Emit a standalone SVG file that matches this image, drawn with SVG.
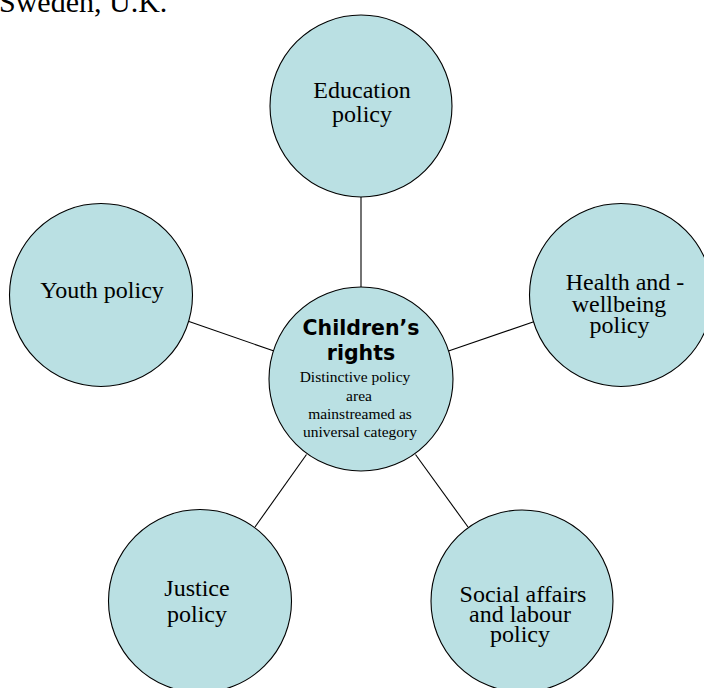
<svg xmlns="http://www.w3.org/2000/svg" width="704" height="688" viewBox="0 0 704 688">
<style>
.node{fill:#bae0e3;stroke:#000;stroke-width:1.1}
.con{stroke:#000;stroke-width:1.1;fill:none}
.t{font-family:"Liberation Serif","Times New Roman",serif;font-size:24px;fill:#000;text-anchor:middle}
.s{font-family:"Liberation Serif","Times New Roman",serif;font-size:15.5px;fill:#000;text-anchor:middle}
.b{font-family:"DejaVu Sans",Verdana,sans-serif;font-size:20.5px;font-weight:bold;fill:#000;text-anchor:middle}
</style>
<rect width="704" height="688" fill="#fff"/>
<text x="-1" y="12" font-family="Liberation Serif, serif" font-size="30">Sweden, U.K.</text>
<g id="connectors">
<line class="con" x1="361" y1="197" x2="361" y2="288"/>
<line class="con" x1="189" y1="321.5" x2="274" y2="351"/>
<line class="con" x1="448.5" y1="351" x2="533" y2="322"/>
<line class="con" x1="306.5" y1="454.5" x2="255" y2="527"/>
<line class="con" x1="415.5" y1="454.5" x2="468" y2="527"/>
</g>
<g id="education">
<circle class="node" cx="361" cy="106" r="91"/>
<text class="t" x="362" y="98">Education</text>
<text class="t" x="362" y="122">policy</text>
</g>
<g id="youth">
<circle class="node" cx="101" cy="295" r="91.5"/>
<text class="t" x="102" y="298">Youth policy</text>
</g>
<g id="health">
<circle class="node" cx="621" cy="295" r="91.5"/>
<text class="t" x="625" y="290">Health and -</text>
<text class="t" x="619" y="311.5">wellbeing</text>
<text class="t" x="619.5" y="332.5">policy</text>
</g>
<g id="children">
<circle class="node" cx="361" cy="379" r="92"/>
<text class="b" x="361" y="335">Children’s</text>
<text class="b" x="361" y="360">rights</text>
<text class="s" x="355" y="382">Distinctive policy</text>
<text class="s" x="359" y="400.5">area</text>
<text class="s" x="360" y="419">mainstreamed as</text>
<text class="s" x="360" y="437">universal category</text>
</g>
<g id="justice">
<circle class="node" cx="200" cy="601" r="91.5"/>
<text class="t" x="197" y="596">Justice</text>
<text class="t" x="197" y="621.5">policy</text>
</g>
<g id="social">
<circle class="node" cx="522" cy="601" r="91"/>
<text class="t" x="523" y="601.5">Social affairs</text>
<text class="t" x="520" y="621.5">and labour</text>
<text class="t" x="520" y="641.5">policy</text>
</g>
</svg>
